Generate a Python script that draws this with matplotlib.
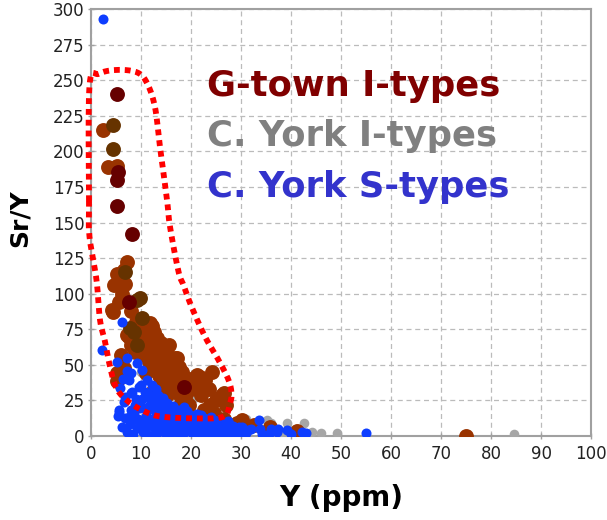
import numpy as np
import matplotlib
matplotlib.use("Agg")
import matplotlib.pyplot as plt

# ---- data (Y ppm, Sr/Y) ----
maroon_x = [5.1, 5.3, 5.1, 5.1, 8.1, 7.5, 18.5]
maroon_y = [240.1, 185.7, 180.0, 161.8, 141.7, 94.4, 34.6]

umber_x = [4.3, 4.3, 9.1, 9.8, 10.1, 8.5, 7.8, 9.1, 6.8]
umber_y = [218.5, 201.5, 95.6, 96.8, 82.7, 73.3, 75.7, 63.9, 115.5]

rust_x = [2.3, 3.3, 5.1, 7.1, 5.1, 6.5, 4.5, 6.8, 5.5, 4.1,
          11.8, 12.1, 7.5, 10.1, 13.1, 11.8, 14.5, 10.8, 8.8, 16.8,
          12.5, 13.4, 5.1, 13.5, 15.8, 17.5, 21.1, 24.1, 22.8, 15.5,
          21.1, 26.1, 23.8, 16.8, 14.0, 18.8, 30.1, 28.8, 26.5, 29.1,
          35.8, 41.1, 75.0, 13.1, 12.8, 9.5, 7.1, 11.8, 17.1, 13.8,
          16.5, 21.8, 26.5, 4.3, 5.2, 15.0, 19.5, 12.0, 32.5, 24.5,
          6.2, 8.0, 9.0, 10.9, 12.6, 14.0, 15.4, 11.5, 13.2, 16.0,
          18.2, 19.5, 17.8, 20.0, 22.0, 19.0, 23.5, 25.0, 27.0, 22.5,
          9.5, 8.0, 6.0, 6.5, 15.5, 17.0, 20.5, 11.0, 14.5, 18.0]
rust_y = [215.0, 189.0, 190.0, 122.5, 114.0, 116.7, 106.0, 107.0, 94.4, 88.5,
          79.2, 77.0, 69.8, 69.8, 68.6, 62.8, 60.4, 56.9, 59.2, 54.6,
          49.9, 51.0, 44.0, 42.9, 46.4, 48.7, 42.9, 45.2, 39.4, 37.0,
          34.6, 28.8, 21.8, 31.1, 32.0, 26.5, 11.2, 7.7, 12.0, 8.9,
          6.5, 3.6, 0.0, 63.9, 55.7, 69.8, 71.0, 71.0, 54.6, 41.7,
          34.6, 41.7, 30.0, 87.0, 38.5, 28.0, 22.0, 30.0, 7.5, 16.5,
          100.0, 88.0, 80.0, 75.0, 73.0, 65.0, 56.0, 52.0, 46.0, 50.5,
          45.0, 40.0, 37.0, 33.0, 29.0, 30.0, 33.0, 25.5, 22.0, 18.0,
          60.0, 64.0, 57.0, 48.0, 64.0, 44.0, 37.5, 44.0, 36.0, 23.0]

gray_x = [8.3, 17.1, 19.3, 14.0, 12.0, 20.0, 24.0, 26.0, 31.0, 35.1,
          39.1, 42.5, 44.1, 49.1, 84.5, 33.0, 38.0, 46.0, 22.0, 16.0,
          10.0, 13.0, 27.0, 30.0, 41.0, 36.0, 18.0, 9.0, 15.5, 20.5]
gray_y = [62.0, 41.7, 24.0, 40.0, 58.0, 18.0, 15.0, 13.0, 12.0, 11.2,
          8.9, 9.4, 3.0, 2.0, 1.5, 7.0, 3.0, 2.0, 30.0, 28.0,
          45.0, 20.0, 4.0, 2.0, 5.0, 9.0, 5.0, 66.0, 43.5, 27.0]

blue_x = [6.1, 2.1, 5.1, 7.1, 9.1, 10.1, 7.1, 7.5, 11.1, 5.8,
          9.5, 12.1, 6.8, 5.5, 5.3, 6.8, 5.5, 7.5, 8.8, 7.2,
          7.8, 8.3, 8.6, 9.2, 9.4, 9.8, 10.3, 10.6, 10.2, 11.0,
          11.3, 11.6, 11.4, 12.2, 12.5, 12.8, 12.4, 13.1, 13.3, 13.6,
          13.9, 14.2, 14.5, 14.3, 14.8, 15.2, 15.5, 15.1, 15.8, 16.1,
          16.4, 16.2, 16.9, 17.2, 17.5, 17.8, 18.1, 18.4, 18.2, 18.9,
          19.3, 19.6, 19.2, 20.1, 20.4, 20.8, 21.2, 21.5, 21.1, 21.9,
          22.3, 22.6, 23.1, 23.4, 23.8, 24.2, 24.6, 25.1, 25.4, 25.8,
          26.3, 26.7, 27.2, 27.6, 28.1, 28.5, 29.2, 30.1, 30.8, 31.4,
          33.5, 33.8, 34.2, 37.1, 37.3, 39.1, 42.1, 55.0, 2.3, 8.0,
          8.5, 9.0, 9.7, 10.0, 10.8, 11.2, 11.8, 12.0, 12.7, 13.0,
          13.4, 13.8, 14.1, 14.6, 15.0, 15.4, 15.9, 16.3, 16.7, 17.1,
          17.6, 17.9, 18.6, 18.8, 19.0, 19.8, 20.2, 20.6, 21.0, 21.7,
          22.0, 22.5, 22.9, 23.6, 24.0, 24.4, 25.0, 25.6, 26.0, 26.9,
          27.4, 28.3, 29.0, 29.6, 31.0, 32.0, 35.5, 36.0, 40.0, 43.0,
          6.5, 8.2, 9.9, 10.8, 12.9, 11.7, 8.0, 6.3, 7.9, 6.2]
blue_y = [80.3, 60.4, 52.2, 54.6, 51.0, 46.4, 46.0, 39.4, 39.4, 33.5,
          34.6, 35.8, 27.6, 17.1, 14.0, 12.4, 18.3, 13.6, 22.0, 3.1,
          8.2, 1.5, 16.4, 5.3, 11.8, 19.5, 2.7, 8.9, 26.1, 14.2,
          0.9, 21.3, 30.2, 6.8, 12.5, 18.1, 27.4, 2.3, 24.0, 9.7,
          15.4, 4.4, 20.9, 27.0, 11.2, 1.3, 17.3, 23.5, 6.9, 13.2,
          21.2, 2.9, 9.4, 16.6, 4.8, 12.1, 19.3, 1.2, 8.2, 14.6,
          5.2, 11.0, 17.8, 2.2, 8.0, 14.3, 4.1, 10.6, 15.8, 1.4,
          7.2, 12.7, 3.9, 9.1, 0.8, 6.1, 11.3, 2.9, 8.4, 5.6,
          1.2, 9.2, 4.6, 8.1, 1.8, 5.2, 3.4, 6.2, 1.5, 4.4,
          11.2, 5.0, 1.6, 3.0, 4.9, 4.2, 3.0, 1.9, 292.8, 30.5,
          12.0, 26.0, 8.0, 21.0, 4.5, 17.5, 10.0, 24.0, 2.0, 14.0,
          29.0, 6.0, 19.0, 2.5, 9.5, 21.0, 15.5, 6.0, 19.0, 10.5,
          1.5, 15.0, 20.5, 4.0, 9.0, 14.5, 5.5, 11.5, 1.0, 8.5,
          15.0, 2.5, 10.0, 5.5, 13.0, 3.5, 10.5, 1.0, 6.0, 2.5,
          10.5, 7.0, 1.0, 6.0, 2.0, 5.0, 1.5, 5.0, 1.5, 2.0,
          24.0, 31.0, 36.0, 31.0, 33.0, 26.5, 44.0, 40.0, 18.0, 6.0]

# hand-drawn outline around the G-town trend
loop_x = [-0.4, -0.3, 1.6, 5.2, 9.2, 11.2, 12.8, 13.8, 15.2, 15.8, 17.5,
          18.5, 20.1, 22.8, 25.5, 27.5, 28.1, 27.8, 26.5, 20.8, 14.1,
          10.8, 7.5, 5.1, 3.8, 2.8, 1.8, 1.1, -0.3]
loop_y = [165, 246, 254.5, 257.2, 255.5, 248, 231, 203, 166, 147, 115.5,
          106, 90.9, 69.8, 53.4, 39.4, 30, 23, 13.6, 12.4, 13.6,
          17.1, 24.1, 33.5, 48.7, 66.3, 81.5, 109.6, 140]

labels = ["G-town I-types", "C. York I-types", "C. York S-types"]
label_colors = ["#800000", "#808080", "#3333CC"]


def closed_spline(xs, ys, n=12):
    # Catmull-Rom through the outline vertices, closed
    p = np.column_stack([xs, ys]).astype(float)
    m = len(p)
    out = []
    t = np.linspace(0, 1, n, endpoint=False)[:, None]
    for i in range(m):
        p0, p1, p2, p3 = p[i - 1], p[i], p[(i + 1) % m], p[(i + 2) % m]
        seg = 0.5 * ((2 * p1) + (-p0 + p2) * t
                     + (2 * p0 - 5 * p1 + 4 * p2 - p3) * t ** 2
                     + (-p0 + 3 * p1 - 3 * p2 + p3) * t ** 3)
        out.append(seg)
    out = np.vstack(out + [p[0:1]])
    return out[:, 0], out[:, 1]


fig = plt.figure(figsize=(6.07, 5.2), dpi=100)
ax = fig.add_axes([91 / 607, 84 / 520, 500 / 607, 427 / 520])

ax.scatter(gray_x, gray_y, s=48, c="#A6A6A6", linewidths=0, zorder=3)
ax.scatter(rust_x, rust_y, s=115, c="#993300", linewidths=0, zorder=4)
ax.scatter(umber_x, umber_y, s=115, c="#663300", linewidths=0, zorder=5)
ax.scatter(maroon_x, maroon_y, s=115, c="#660000", linewidths=0, zorder=6)
ax.scatter(blue_x, blue_y, s=52, c="#0D3DFF", linewidths=0, zorder=7)

lx, ly = closed_spline(loop_x, loop_y)
ax.plot(lx, ly, color="#FF0000", lw=4.2, linestyle=(0, (1.0, 0.85)),
        dash_capstyle="butt", clip_on=False, zorder=8)

ax.set_xlim(0, 100)
ax.set_ylim(0, 300)
ax.set_xticks(np.arange(0, 101, 10))
ax.set_yticks(np.arange(0, 301, 25))
ax.grid(True, color="#BBBBBB", lw=0.9, linestyle=(0, (4, 3)))
ax.set_axisbelow(True)
for sp in ax.spines.values():
    sp.set_color("#A0A0A0")
    sp.set_linewidth(1.5)
ax.tick_params(direction="inout", length=5, width=1, color="#A0A0A0",
               labelsize=12, labelcolor="#222222")
ax.tick_params(axis="x", pad=4)
ax.tick_params(axis="y", pad=2)

ax.set_xlabel("Y (ppm)", fontsize=20, fontweight="bold")
ax.set_ylabel("Sr/Y", fontsize=18, fontweight="bold")
ax.xaxis.set_label_coords(0.5, -0.112)
ax.yaxis.set_label_coords(-0.118, 0.51)

for i, (txt, col) in enumerate(zip(labels, label_colors)):
    ax.text(23.2, 239 - i * 35.5, txt, color=col, fontsize=25.5,
            fontweight="bold", ha="left", va="baseline", zorder=9)

fig.savefig("out.png", dpi=100)
